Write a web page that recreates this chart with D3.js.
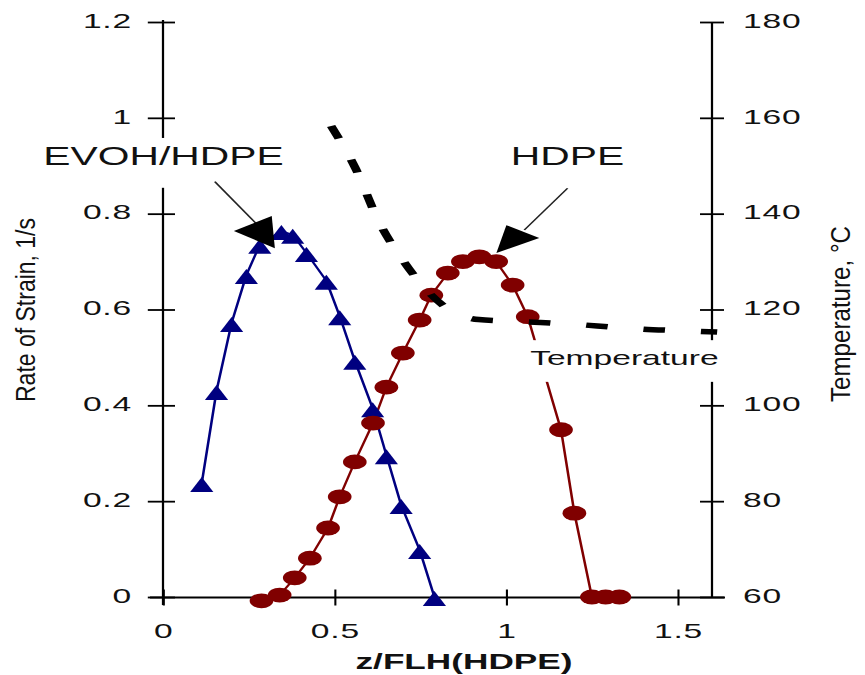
<!DOCTYPE html>
<html>
<head>
<meta charset="utf-8">
<script src="https://cdn.jsdelivr.net/npm/d3@7"></script>
<style>
  body { margin: 0; background: #fff; }
  svg { display: block; }
  text { font-family: "Liberation Sans", Arial, Helvetica, sans-serif; fill: #111; }
</style>
</head>
<body>
<svg id="chart" width="865" height="675"></svg>
<script>
// ---- axis ticks ----
const xTicks = [0, 0.5, 1, 1.5];
const xTickLabels = ["0", "0.5", "1", "1.5"];
const rateTicks = [0, 0.2, 0.4, 0.6, 0.8, 1, 1.2];
const rateTickLabels = ["0", "0.2", "0.4", "0.6", "0.8", "1", "1.2"];
const tempTicks = [60, 80, 100, 120, 140, 160, 180];
const tempTickLabels = ["60", "80", "100", "120", "140", "160", "180"];

// ---- EVOH/HDPE layer: rate of strain vs z/FLH ----
const evohZ    = [0.113, 0.156, 0.200, 0.243, 0.282, 0.345, 0.378, 0.418, 0.476, 0.515, 0.559, 0.611, 0.651, 0.694, 0.748, 0.791];
const evohRate = [0.238, 0.430, 0.572, 0.672, 0.735, 0.764, 0.756, 0.718, 0.660, 0.586, 0.493, 0.394, 0.296, 0.192, 0.098, 0.000];

// ---- HDPE layer: rate of strain vs z/FLH ----
const hdpeZ    = [0.287, 0.340, 0.384, 0.428, 0.481, 0.515, 0.559, 0.612, 0.651, 0.699, 0.748, 0.782, 0.830, 0.874, 0.922, 0.971, 1.019, 1.063, 1.160, 1.199, 1.250, 1.290, 1.330];
const hdpeRate = [-0.008, 0.004, 0.040, 0.081, 0.144, 0.209, 0.282, 0.363, 0.438, 0.509, 0.578, 0.630, 0.676, 0.700, 0.710, 0.700, 0.651, 0.585, 0.349, 0.175, 0.000, 0.000, 0.000];

// ---- temperature profile (right axis, °C) ----
const tempZ = [0.49, 0.56, 0.63, 0.70, 0.77, 0.84, 0.92, 1.00, 1.10, 1.20, 1.30, 1.40, 1.50, 1.615];
const tempC = [158.3, 149.6, 138.2, 130.2, 123.9, 119.7, 117.9, 117.6, 117.3, 116.9, 116.4, 115.9, 115.6, 115.3];

// The plotting layer is drawn in a narrow space and widened horizontally.
const K = 1.6;
const svg = d3.select("#chart");
svg.append("rect").attr("width", 865).attr("height", 675).attr("fill", "#fff");
const g = svg.append("g").attr("transform", `scale(${K},1)`);

const x = d3.scaleLinear().domain([0, 1.6]).range([163 / K, 712 / K]);
const yRate = d3.scaleLinear().domain([0, 1.2]).range([597, 22]);
const yTemp = d3.scaleLinear().domain([60, 180]).range([597, 22]);

const FONT = "Liberation Sans, Arial, Helvetica, sans-serif";

// ---- axes ----
function styleAxis(sel) {
  sel.attr("font-size", 21).attr("font-family", FONT);
  sel.select(".domain").remove();
  sel.selectAll(".tick text").attr("fill", "#111").attr("letter-spacing", 0.5);
}

const leftAxis = g.append("g")
  .attr("transform", `translate(${x(0)},0)`)
  .call(d3.axisLeft(yRate).tickValues(rateTicks)
    .tickFormat((d, i) => rateTickLabels[i])
    .tickSizeInner(9).tickSizeOuter(0).tickPadding(10.4));
styleAxis(leftAxis);
leftAxis.selectAll(".tick line").attr("x1", 7.5).attr("x2", -9.5).attr("stroke", "#000").attr("stroke-width", 1.8);
leftAxis.selectAll(".tick text").attr("dy", "0.25em");

const rightAxis = g.append("g")
  .attr("transform", `translate(${x(1.6)},0)`)
  .call(d3.axisRight(yTemp).tickValues(tempTicks)
    .tickFormat((d, i) => tempTickLabels[i])
    .tickSizeInner(7.5).tickSizeOuter(0).tickPadding(11.9));
styleAxis(rightAxis);
rightAxis.selectAll(".tick line").attr("x1", -7.5).attr("x2", 7.5).attr("stroke", "#000").attr("stroke-width", 1.8);
rightAxis.selectAll(".tick text").attr("dy", "0.25em");

const bottomAxis = g.append("g")
  .attr("transform", `translate(0,${yRate(0) + 0.5})`)
  .call(d3.axisBottom(x).tickValues(xTicks)
    .tickFormat((d, i) => xTickLabels[i])
    .tickSizeInner(8).tickSizeOuter(0).tickPadding(17.6));
styleAxis(bottomAxis);
bottomAxis.selectAll(".tick line").attr("y1", -8).attr("y2", 8).attr("stroke", "#000").attr("stroke-width", 1.3);

// axis lines
g.append("line").attr("x1", x(0)).attr("x2", x(0)).attr("y1", 20).attr("y2", 605)
  .attr("stroke", "#000").attr("stroke-width", 1.4);
g.append("line").attr("x1", x(1.6)).attr("x2", x(1.6)).attr("y1", 22).attr("y2", 598)
  .attr("stroke", "#000").attr("stroke-width", 1.4);
g.append("line").attr("x1", 150 / K).attr("x2", 725 / K).attr("y1", yRate(0) + 0.5).attr("y2", yRate(0) + 0.5)
  .attr("stroke", "#000").attr("stroke-width", 1.8);

// ---- series ----
const rateLine = d3.line().x(d => x(d[0])).y(d => yRate(d[1]));
const evoh = evohZ.map((z, i) => [z, evohRate[i]]);
const hdpe = hdpeZ.map((z, i) => [z, hdpeRate[i]]);

const BLUE = "#000080", RED = "#800000";

g.append("path").datum(evoh).attr("d", rateLine)
  .attr("fill", "none").attr("stroke", BLUE).attr("stroke-width", 1.6);
g.append("path").datum(hdpe).attr("d", rateLine)
  .attr("fill", "none").attr("stroke", RED).attr("stroke-width", 1.6);

// upward triangle marker, slightly taller than wide
const triangleMarker = {
  draw(ctx, size) {
    const w = Math.sqrt(size);
    ctx.moveTo(0, -6);
    ctx.lineTo(w / 2, 9);
    ctx.lineTo(-w / 2, 9);
    ctx.closePath();
  }
};
g.append("g").selectAll("path").data(evoh).join("path")
  .attr("transform", d => `translate(${x(d[0])},${yRate(d[1])})`)
  .attr("d", d3.symbol().type(triangleMarker).size(14.5 * 14.5))
  .attr("fill", BLUE);

g.append("g").selectAll("circle").data(hdpe).join("circle")
  .attr("cx", d => x(d[0])).attr("cy", d => yRate(d[1])).attr("r", 7.4)
  .attr("fill", RED);

// ---- temperature (dashed, right axis) ----
const temp = tempZ.map((z, i) => [z, tempC[i]]);
g.append("path").datum(temp)
  .attr("d", d3.line().curve(d3.curveMonotoneX).x(d => x(d[0])).y(d => yTemp(d[1])))
  .attr("fill", "none").attr("stroke", "#000").attr("stroke-width", 5.5)
  .attr("stroke-dasharray", "13.5,22.5");

// ---- annotations (positions in data units) ----
function box(z0, z1, r0, r1) {
  g.append("rect")
    .attr("x", x(z0)).attr("width", x(z1) - x(z0))
    .attr("y", yRate(r0)).attr("height", yRate(r1) - yRate(r0))
    .attr("fill", "#fff");
}
function arrow(from, to, head) {
  g.append("line")
    .attr("x1", x(from[0])).attr("y1", yRate(from[1]))
    .attr("x2", x(to[0])).attr("y2", yRate(to[1]))
    .attr("stroke", "#222").attr("stroke-width", 1.2);
  g.append("polygon")
    .attr("points", head.map(p => `${x(p[0])},${yRate(p[1])}`).join(" "))
    .attr("fill", "#000");
}

box(-0.372, 0.372, 0.958, 0.854);
g.append("text").attr("x", x(0.0015)).attr("y", yRate(0.9016))
  .attr("text-anchor", "middle").attr("font-size", 25.5).text("EVOH/HDPE");
arrow([0.151, 0.867], [0.276, 0.776], [[0.2065, 0.764], [0.317, 0.795], [0.326, 0.728]]);

g.append("text").attr("x", x(1.179)).attr("y", yRate(0.9016))
  .attr("text-anchor", "middle").attr("font-size", 25.5).text("HDPE");
arrow([1.179, 0.853], [1.053, 0.766], [[1.0007, 0.776], [1.0967, 0.749], [0.9716, 0.718]]);

box(1.062, 1.649, 0.536, 0.449);
g.append("text").attr("x", x(1.070)).attr("y", yRate(0.484))
  .attr("font-size", 21).text("Temperature");

// ---- axis titles ----
g.append("text").attr("x", 290).attr("y", 669).attr("text-anchor", "middle")
  .attr("font-size", 22).attr("font-weight", "bold").text("z/FLH(HDPE)");

svg.append("text").attr("transform", "translate(35,310) rotate(-90)")
  .attr("text-anchor", "middle").attr("font-size", 27)
  .attr("textLength", 184).attr("lengthAdjust", "spacingAndGlyphs")
  .text("Rate of Strain, 1/s");
svg.append("text").attr("transform", "translate(850,314) rotate(-90)")
  .attr("text-anchor", "middle").attr("font-size", 27)
  .attr("textLength", 176).attr("lengthAdjust", "spacingAndGlyphs")
  .text("Temperature, °C");
</script>
</body>
</html>
